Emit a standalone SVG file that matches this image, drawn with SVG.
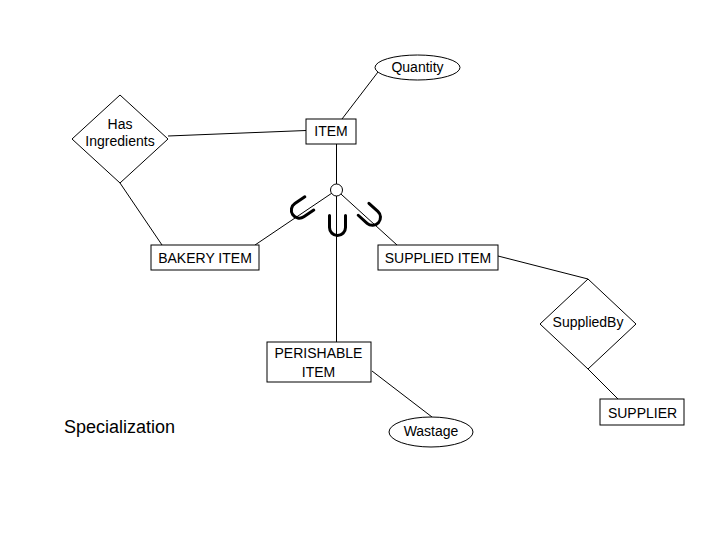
<svg xmlns="http://www.w3.org/2000/svg" width="720" height="540" viewBox="0 0 720 540">
<style>
.s{fill:#fff;stroke:#000;stroke-width:1}
.c line{stroke:#000;stroke-width:1}
.t{font-family:"Liberation Sans",Arial,sans-serif;font-size:14px;fill:#000;text-anchor:middle}
.u{fill:none;stroke:#000;stroke-width:3;stroke-linecap:round}
</style>
<defs>
<path id="U" d="M-8,-10 L-8,2 A8,8 0 0 0 8,2 L8,-10"/>
</defs>
<rect width="720" height="540" fill="#fff"/>
<g id="connectors" class="c">
<line x1="378" y1="72" x2="342" y2="119"/>
<line x1="168" y1="136" x2="306" y2="130.5"/>
<line x1="120" y1="183" x2="162" y2="245"/>
<line x1="336.5" y1="144" x2="336.5" y2="190"/>
<line x1="336.5" y1="190" x2="255" y2="245"/>
<line x1="336.5" y1="190" x2="397" y2="245"/>
<line x1="336.5" y1="190" x2="336.5" y2="342"/>
<line x1="498" y1="256" x2="588" y2="279"/>
<line x1="588" y1="369" x2="618" y2="399"/>
<line x1="372" y1="371" x2="432" y2="417"/>
</g>
<g id="specialization-circle">
<circle class="s" cx="336.5" cy="190" r="6"/>
<use href="#U" class="u" transform="translate(301,209) rotate(56)"/>
<use href="#U" class="u" transform="translate(337.5,225.5)"/>
<use href="#U" class="u" transform="translate(371,216) rotate(-48)"/>
</g>
<g id="quantity">
<ellipse class="s" cx="417.5" cy="67.5" rx="42.5" ry="12.5"/>
<text class="t" x="417.5" y="72">Quantity</text>
</g>
<g id="item">
<rect class="s" x="306" y="119" width="50" height="25"/>
<text class="t" x="331" y="136">ITEM</text>
</g>
<g id="has-ingredients">
<polygon class="s" points="120,95 168,139 120,183 72,139"/>
<text class="t" x="120" y="129">Has</text>
<text class="t" x="120" y="146">Ingredients</text>
</g>
<g id="bakery-item">
<rect class="s" x="151" y="245" width="108" height="25"/>
<text class="t" x="205" y="262.5">BAKERY ITEM</text>
</g>
<g id="supplied-item">
<rect class="s" x="378" y="245" width="120" height="25"/>
<text class="t" x="438" y="262.5">SUPPLIED ITEM</text>
</g>
<g id="supplied-by">
<polygon class="s" points="588,279 636,324 588,369 540,324"/>
<text class="t" x="588" y="327">SuppliedBy</text>
</g>
<g id="supplier">
<rect class="s" x="600" y="399" width="84" height="26"/>
<text class="t" x="642.5" y="417.5">SUPPLIER</text>
</g>
<g id="perishable-item">
<rect class="s" x="267" y="342" width="104" height="40"/>
<text class="t" x="318.5" y="358">PERISHABLE</text>
<text class="t" x="318.5" y="376.5">ITEM</text>
</g>
<g id="wastage">
<ellipse class="s" cx="431" cy="432" rx="42" ry="15"/>
<text class="t" x="431" y="436">Wastage</text>
</g>
<text x="64" y="433" font-family="Liberation Sans, Arial, sans-serif" font-size="18" fill="#000">Specialization</text>
</svg>
